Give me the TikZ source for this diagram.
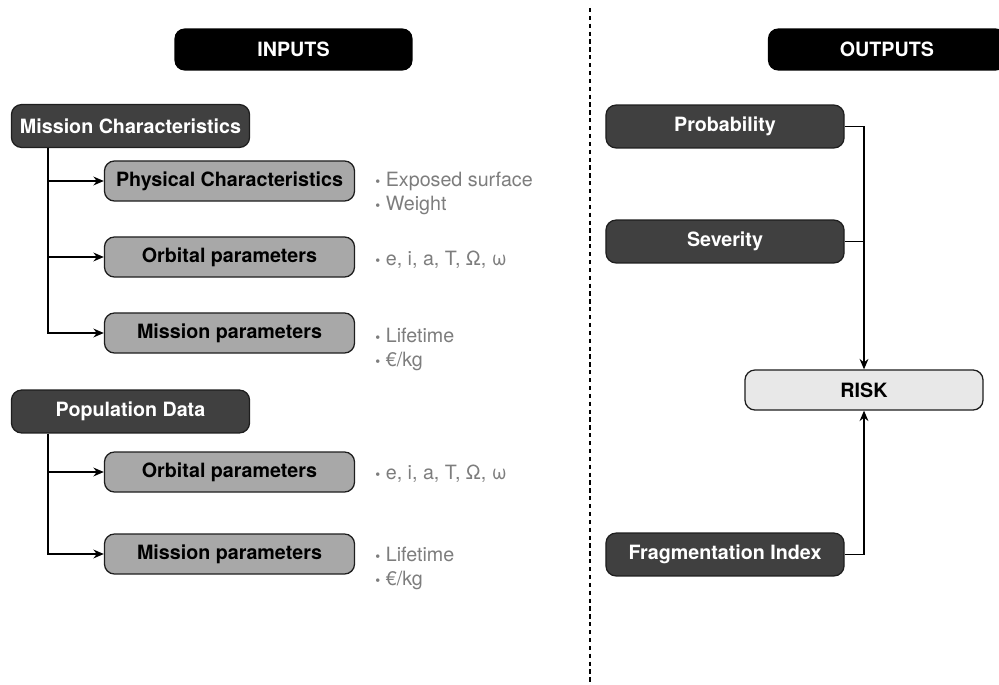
\documentclass[tikz,border=0pt]{standalone}
\usepackage{fontspec}
\setmainfont{TeX Gyre Heros}
\usepackage{tikz}
\usetikzlibrary{positioning,arrows.meta}
\usepackage{xcolor}
\definecolor{boxdark}{RGB}{64,64,64}
\definecolor{boxgrey}{RGB}{168,168,168}
\definecolor{boxlight}{RGB}{232,232,232}
\definecolor{notegrey}{RGB}{125,125,125}
\definecolor{rimgrey}{RGB}{30,30,30}
\newcommand{\dotitem}{{\normalsize\textbullet}\hspace{4pt}}
\begin{document}
\begin{tikzpicture}[x=0.025cm,y=-0.025cm,>={Stealth[length=2.6mm,width=2.2mm]},
  every node/.style={font=\fontsize{14}{17}\selectfont},
  head/.style={fill=black,rounded corners=2.5mm,minimum width=5.95cm,minimum height=1.05cm,text=white,font=\fontsize{14}{17}\selectfont\bfseries},
  darkbox/.style={draw=rimgrey,line width=0.9pt,fill=boxdark,rounded corners=2.5mm,minimum width=5.95cm,minimum height=1.07cm,text=white,font=\fontsize{14}{17}\selectfont\bfseries},
  greybox/.style={draw=rimgrey,line width=0.9pt,fill=boxgrey,rounded corners=2.5mm,minimum width=6.25cm,minimum height=1cm,text=black,font=\fontsize{14}{17}\selectfont\bfseries},
  riskbox/.style={greybox,fill=boxlight,minimum width=5.95cm},
  note/.style={anchor=west,align=left,text=notegrey,inner sep=0pt},
  link/.style={line width=1.4pt}]
\useasboundingbox (0,0) rectangle (999,684);

% headers and divider
\node[head] (inputs) at (293.5,49.5) {INPUTS};
\node[head] (outputs) at (887,49.5) {OUTPUTS};
\draw[line width=1.5pt,dash pattern=on 3pt off 2.6pt] (590,8) -- (590,684);

% inputs
\coordinate (trunk) at (48,0);
\node[darkbox] (mc) at (130.5,126) {Mission Characteristics};
\node[greybox] (phys) at (229.5,181) {Physical Characteristics};
\node[greybox] (orbA) at (229.5,257) {Orbital parameters};
\node[greybox] (misA) at (229.5,333) {Mission parameters};
\node[darkbox] (pop) at (130.5,411.5) {Population Data};
\node[greybox] (orbB) at (229.5,472) {Orbital parameters};
\node[greybox] (misB) at (229.5,554) {Mission parameters};

\draw[link,->] (mc.south -| trunk) |- (phys.west);
\draw[link,->] (mc.south -| trunk) |- (orbA.west);
\draw[link,->] (mc.south -| trunk) |- (misA.west);
\draw[link,->] (pop.south -| trunk) |- (orbB.west);
\draw[link,->] (pop.south -| trunk) |- (misB.west);

\node[note] (physN) at (375,193) {\dotitem Exposed surface\\\dotitem Weight};
\node[note] (orbAN) at (375,260) {\dotitem e, i, a, T, Ω, ω};
\node[note] (misAN) at (375,349) {\dotitem Lifetime\\\dotitem €/kg};
\node[note] (orbBN) at (375,474) {\dotitem e, i, a, T, Ω, ω};
\node[note] (misBN) at (375,568) {\dotitem Lifetime\\\dotitem €/kg};

% outputs
\node[darkbox] (prob) at (725,126.5) {Probability};
\node[darkbox] (sev) at (725,241.5) {Severity};
\node[riskbox] (risk) at (864,390) {RISK};
\node[darkbox] (frag) at (725,554.5) {Fragmentation Index};

\draw[link,->] (prob.east) -| (risk.north);
\draw[link] (sev.east) -- (sev.east -| risk.north);
\draw[link,->] (frag.east) -| (risk.south);
\end{tikzpicture}
\end{document}
